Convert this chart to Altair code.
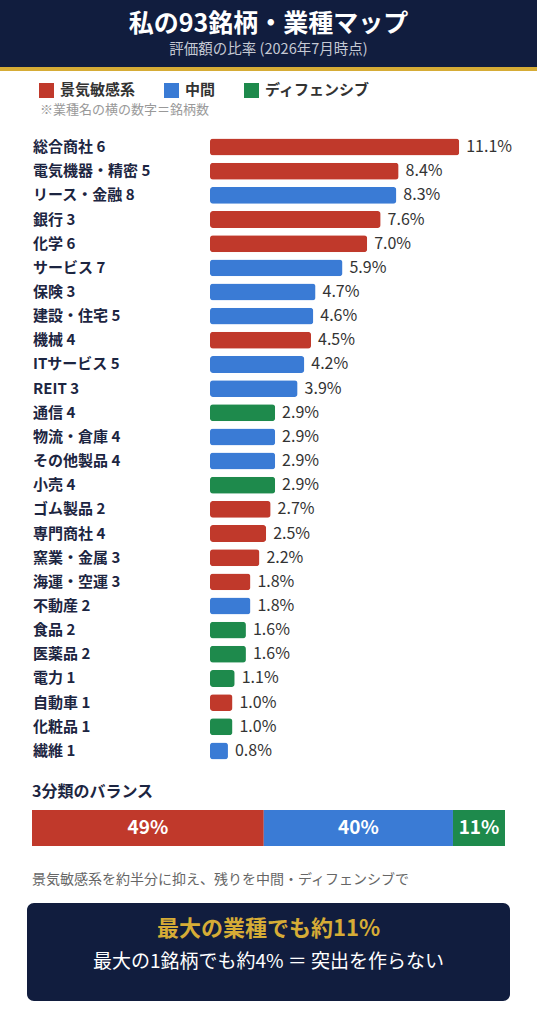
import altair as alt
import pandas as pd

# ---------------- data ----------------
industries = ["総合商社", "電気機器・精密", "リース・金融", "銀行", "化学", "サービス", "保険",
              "建設・住宅", "機械", "ITサービス", "REIT", "通信", "物流・倉庫", "その他製品",
              "小売", "ゴム製品", "専門商社", "窯業・金属", "海運・空運", "不動産", "食品",
              "医薬品", "電力", "自動車", "化粧品", "繊維"]
counts = [6, 5, 8, 3, 6, 7, 3, 5, 4, 5, 3, 4, 4, 4, 4, 2, 4, 3, 3, 2, 2, 2, 1, 1, 1, 1]
shares = [11.1, 8.4, 8.3, 7.6, 7.0, 5.9, 4.7, 4.6, 4.5, 4.2, 3.9, 2.9, 2.9, 2.9, 2.9,
          2.7, 2.5, 2.2, 1.8, 1.8, 1.6, 1.6, 1.1, 1.0, 1.0, 0.8]
industry_groups = ["景気敏感系", "景気敏感系", "中間", "景気敏感系", "景気敏感系", "中間", "中間",
                   "中間", "景気敏感系", "中間", "中間", "ディフェンシブ", "中間", "中間",
                   "ディフェンシブ", "景気敏感系", "景気敏感系", "景気敏感系", "景気敏感系", "中間",
                   "ディフェンシブ", "ディフェンシブ", "ディフェンシブ", "景気敏感系", "ディフェンシブ", "中間"]

group_names = ["景気敏感系", "中間", "ディフェンシブ"]
group_colors = ["#c0392b", "#3a7bd5", "#1e8a4c"]
balance_pct = [49, 40, 11]

title = "私の93銘柄・業種マップ"
subtitle = "評価額の比率 (2026年7月時点)"
note = "※業種名の横の数字＝銘柄数"
balance_title = "3分類のバランス"
balance_note = "景気敏感系を約半分に抑え、残りを中間・ディフェンシブで"
box_line1 = "最大の業種でも約11%"
box_line2 = "最大の1銘柄でも約4% ＝ 突出を作らない"

# ---------------- styles ----------------
FONT = "Noto Sans CJK JP"
NAVY = "#111d3e"
GOLD = "#d6ac36"
W, H = 537, 1024

df = pd.DataFrame({"industry": industries, "count": counts, "share": shares, "group": industry_groups})
df["label"] = df["industry"] + " " + df["count"].astype(str)
df["value_label"] = df["share"].map(lambda v: f"{v:.1f}%")

bdf = pd.DataFrame({"group": group_names, "pct": balance_pct, "order": list(range(len(group_names)))})

color = alt.Color("group:N", scale=alt.Scale(domain=group_names, range=group_colors), legend=None)
xs = alt.Scale(domain=[0, 12], range=[210, 210 + 12 * 22.45])
ys = alt.Scale(domain=industries, range=[135, 763], paddingInner=0.3, paddingOuter=0.15)
bscale = alt.Scale(domain=[0, sum(balance_pct)], range=[32, 505])

one = pd.DataFrame({"k": [0]})


def rect(x1, x2, y1, y2, fill, radius=0):
    return alt.Chart(one).mark_rect(color=fill, cornerRadius=radius).encode(
        x=alt.value(x1), x2=alt.value(x2), y=alt.value(y1), y2=alt.value(y2))


def label(txt, x, y, size, col, weight="normal", align="left"):
    return alt.Chart(one).mark_text(text=txt, font=FONT, fontSize=size, fontWeight=weight,
                                    color=col, align=align, baseline="middle").encode(
        x=alt.value(x), y=alt.value(y))


layers = []
# header
layers.append(rect(0, W, 0, 67, NAVY))
layers.append(rect(0, W, 67, 71, GOLD))
layers.append(label(title, W / 2, 24, 25, "white", "bold", "center"))
layers.append(label(subtitle, W / 2, 50, 14.5, "#c5c9d4", "normal", "center"))

# legend
leg_x = [39, 164, 244]
for gx, g, c in zip(leg_x, group_names, group_colors):
    layers.append(rect(gx, gx + 15, 83, 98, c))
    layers.append(label(g, gx + 21, 90, 15, "#333333", "bold"))
layers.append(label(note, 40, 110, 13, "#999999"))

# bar chart
base = alt.Chart(df)
y_enc = alt.Y("industry:N", scale=ys, axis=None, sort=industries)
layers.append(base.mark_bar(cornerRadius=3).encode(
    y=y_enc, x=alt.X("share:Q", scale=xs, axis=None), color=color))
layers.append(base.mark_text(align="left", baseline="middle", font=FONT, fontSize=15,
                             fontWeight="bold", color="#1c2541").encode(
    y=y_enc, x=alt.value(33), text="label:N"))
layers.append(base.mark_text(align="left", baseline="middle", dx=7, font=FONT, fontSize=16,
                             color="#333333").encode(
    y=y_enc, x=alt.X("share:Q", scale=xs, axis=None), text="value_label:N"))

# balance
layers.append(label(balance_title, 32, 792, 16, "#1c2541", "bold"))
bal_base = alt.Chart(bdf).transform_stack(
    stack="pct", groupby=[], as_=["s0", "s1"], sort=[alt.SortField("order")]
).transform_calculate(mid="(datum.s0 + datum.s1) / 2", lbl="datum.pct + '%'")
layers.append(bal_base.mark_rect().encode(
    x=alt.X("s0:Q", scale=bscale, axis=None), x2="s1:Q",
    y=alt.value(810), y2=alt.value(846), color=color))
layers.append(bal_base.mark_text(font=FONT, fontSize=19, fontWeight="bold", color="white",
                                 align="center", baseline="middle").encode(
    x=alt.X("mid:Q", scale=bscale, axis=None), y=alt.value(828), text="lbl:N"))
layers.append(label(balance_note, 32, 880, 14, "#666666"))

# bottom box
layers.append(rect(27, 510, 903, 1001, NAVY, 7))
layers.append(label(box_line1, W / 2, 929, 22, GOLD, "bold", "center"))
layers.append(label(box_line2, W / 2, 962, 19, "white", "normal", "center"))

chart = alt.layer(*layers).resolve_scale(x="independent", y="independent").properties(
    width=W, height=H, autosize=alt.AutoSizeParams(type="none"), padding=0,
    background="white"
).configure_view(stroke=None)

chart.save("out.html", embed_options={"renderer": "svg", "actions": False})
